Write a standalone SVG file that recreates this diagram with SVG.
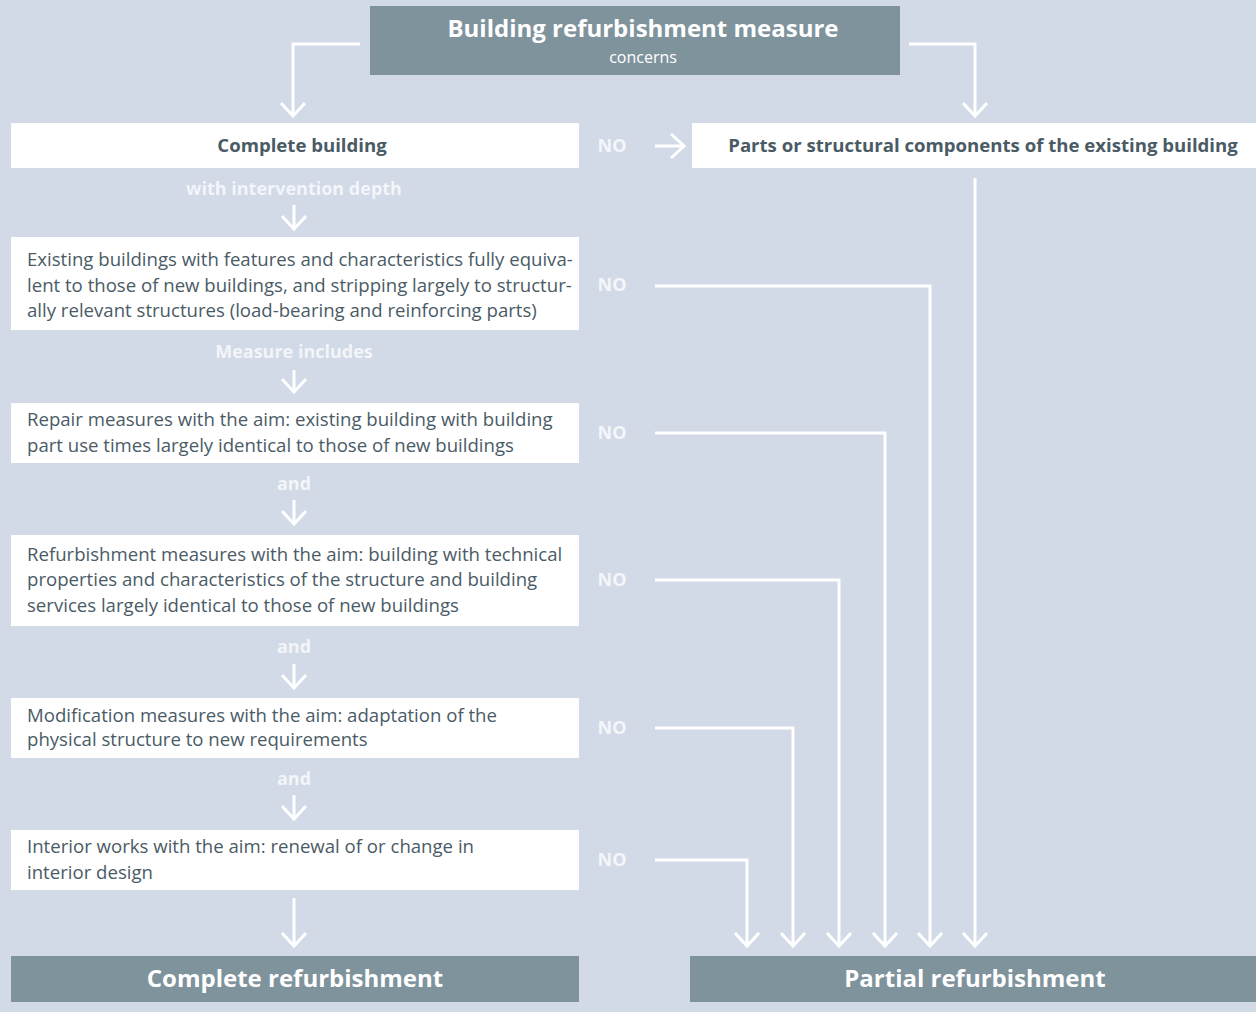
<svg xmlns="http://www.w3.org/2000/svg" width="1256" height="1012" viewBox="0 0 1256 1012">
<defs>
<style>
.bg{fill:#d2d9e7}
.box{fill:#ffffff}
.dark{fill:#7f939d}
.t{font-family:"Open Sans","Liberation Sans",sans-serif;font-size:18.6px;fill:#4a5b66}
.tb{font-family:"Open Sans","Liberation Sans",sans-serif;font-size:18.6px;font-weight:bold;fill:#4a5b66}
.lbl{font-family:"Open Sans","Liberation Sans",sans-serif;font-size:18px;font-weight:bold;fill:#ffffff;fill-opacity:0.75}
.no{font-family:"Open Sans","Liberation Sans",sans-serif;font-size:18px;font-weight:bold;fill:#ffffff;fill-opacity:0.8}
.big{font-family:"Open Sans","Liberation Sans",sans-serif;font-size:24px;font-weight:bold;fill:#ffffff}
.sub{font-family:"Open Sans","Liberation Sans",sans-serif;font-size:16px;fill:#ffffff}
.c{fill:none;stroke:#ffffff;stroke-width:3}
</style>
<marker id="ah" viewBox="0 0 16 26" refX="14" refY="13" markerWidth="16" markerHeight="26" markerUnits="userSpaceOnUse" orient="auto">
<path d="M1,1 L14,13 L1,25" fill="none" stroke="#ffffff" stroke-width="3"/>
</marker>
</defs>
<rect class="bg" x="0" y="0" width="1256" height="1012"/>

<g id="connectors">
<path class="c" d="M360,44 H293 V116" marker-end="url(#ah)"/>
<path class="c" d="M909,44 H975 V116" marker-end="url(#ah)"/>
<path class="c" d="M655,146 H684" marker-end="url(#ah)"/>
<path class="c" d="M294,205 V229" marker-end="url(#ah)"/>
<path class="c" d="M294,370 V392" marker-end="url(#ah)"/>
<path class="c" d="M294,500 V524" marker-end="url(#ah)"/>
<path class="c" d="M294,664 V688" marker-end="url(#ah)"/>
<path class="c" d="M294,795 V819" marker-end="url(#ah)"/>
<path class="c" d="M294,898 V946" marker-end="url(#ah)"/>
<path class="c" d="M975,178 V946" marker-end="url(#ah)"/>
<path class="c" d="M655,286 H930 V946" marker-end="url(#ah)"/>
<path class="c" d="M655,433 H885 V946" marker-end="url(#ah)"/>
<path class="c" d="M655,580 H839 V946" marker-end="url(#ah)"/>
<path class="c" d="M655,728 H793 V946" marker-end="url(#ah)"/>
<path class="c" d="M655,860 H747 V946" marker-end="url(#ah)"/>
</g>

<g id="labels">
<text class="no" x="612" y="152" text-anchor="middle">NO</text>
<text class="no" x="612" y="291" text-anchor="middle">NO</text>
<text class="no" x="612" y="439" text-anchor="middle">NO</text>
<text class="no" x="612" y="586" text-anchor="middle">NO</text>
<text class="no" x="612" y="734" text-anchor="middle">NO</text>
<text class="no" x="612" y="866" text-anchor="middle">NO</text>
<text class="lbl" x="294" y="195" text-anchor="middle">with intervention depth</text>
<text class="lbl" x="294" y="358" text-anchor="middle">Measure includes</text>
<text class="lbl" x="294" y="490" text-anchor="middle">and</text>
<text class="lbl" x="294" y="653" text-anchor="middle">and</text>
<text class="lbl" x="294" y="785" text-anchor="middle">and</text>
</g>

<g id="n-top">
<rect class="dark" x="370" y="6" width="530" height="69"/>
<text class="big" x="643" y="37" text-anchor="middle">Building refurbishment measure</text>
<text class="sub" x="643" y="63" text-anchor="middle">concerns</text>
</g>

<g id="n-complete-building">
<rect class="box" x="11" y="123" width="568" height="45"/>
<text class="tb" x="302" y="152" text-anchor="middle">Complete building</text>
</g>

<g id="n-parts">
<rect class="box" x="692" y="123" width="564" height="45"/>
<text class="tb" x="983" y="152" text-anchor="middle">Parts or structural components of the existing building</text>
</g>

<g id="n-existing">
<rect class="box" x="11" y="237" width="568" height="93"/>
<text class="t" x="27" y="266">Existing buildings with features and characteristics fully equiva-</text>
<text class="t" x="27" y="292">lent to those of new buildings, and stripping largely to structur-</text>
<text class="t" x="27" y="317">ally relevant structures (load-bearing and reinforcing parts)</text>
</g>

<g id="n-repair">
<rect class="box" x="11" y="403" width="568" height="60"/>
<text class="t" x="27" y="426">Repair measures with the aim: existing building with building</text>
<text class="t" x="27" y="452">part use times largely identical to those of new buildings</text>
</g>

<g id="n-refurb">
<rect class="box" x="11" y="535" width="568" height="91"/>
<text class="t" x="27" y="561">Refurbishment measures with the aim: building with technical</text>
<text class="t" x="27" y="586">properties and characteristics of the structure and building</text>
<text class="t" x="27" y="612">services largely identical to those of new buildings</text>
</g>

<g id="n-modification">
<rect class="box" x="11" y="698" width="568" height="60"/>
<text class="t" x="27" y="722">Modification measures with the aim: adaptation of the</text>
<text class="t" x="27" y="746">physical structure to new requirements</text>
</g>

<g id="n-interior">
<rect class="box" x="11" y="830" width="568" height="60"/>
<text class="t" x="27" y="853">Interior works with the aim: renewal of or change in</text>
<text class="t" x="27" y="879">interior design</text>
</g>

<g id="n-complete-refurb">
<rect class="dark" x="11" y="956" width="568" height="46"/>
<text class="big" x="295" y="987" text-anchor="middle">Complete refurbishment</text>
</g>

<g id="n-partial-refurb">
<rect class="dark" x="690" y="956" width="566" height="46"/>
<text class="big" x="975" y="987" text-anchor="middle">Partial refurbishment</text>
</g>
</svg>
